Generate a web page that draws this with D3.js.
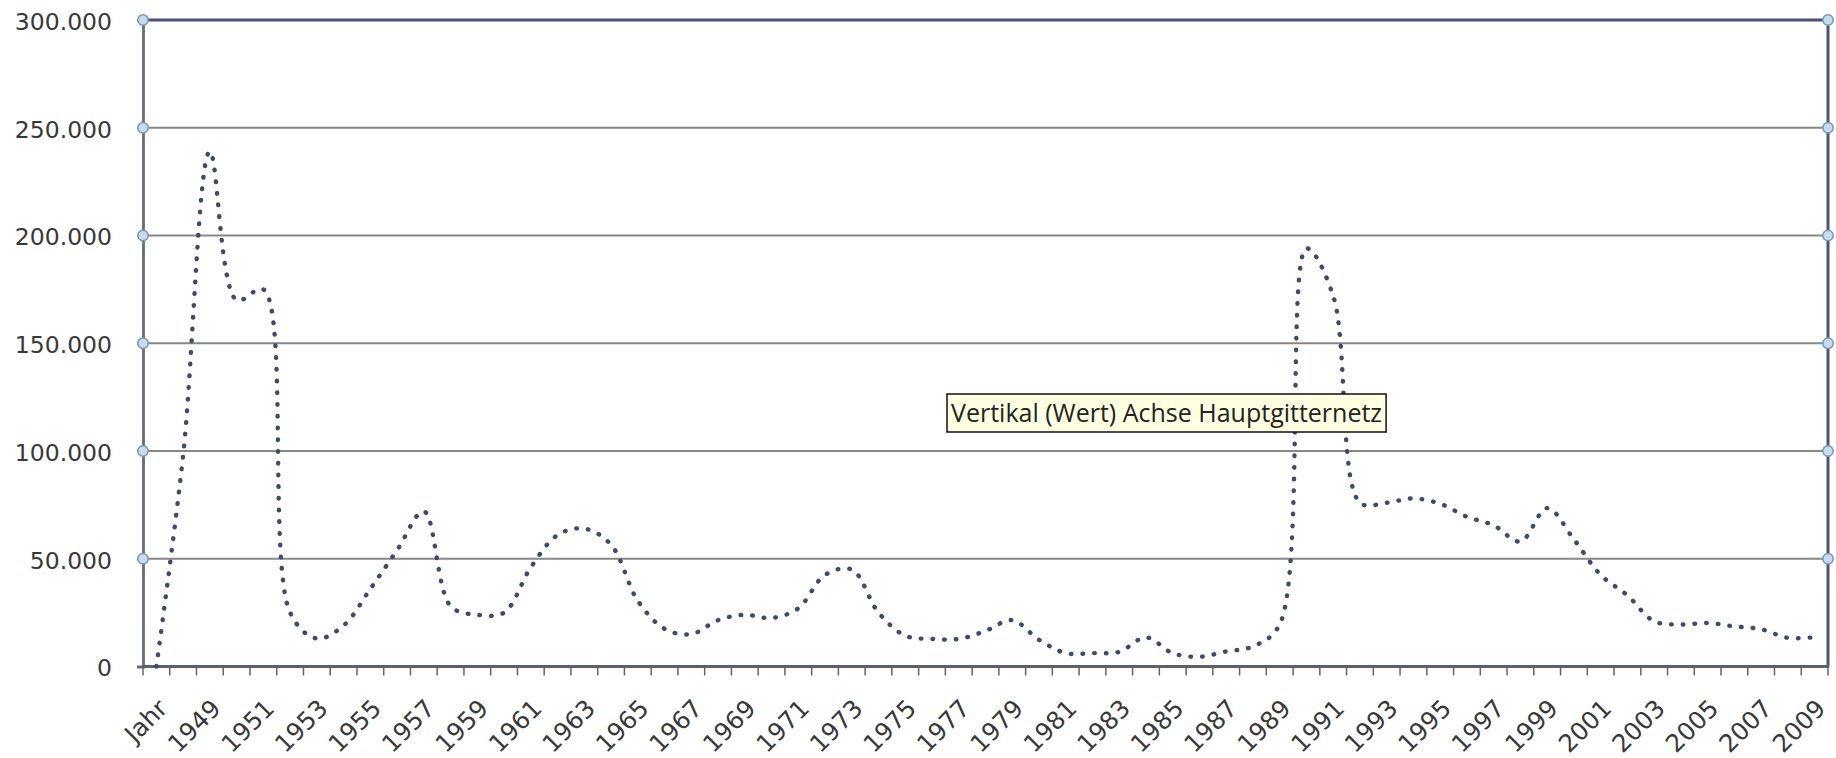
<!DOCTYPE html>
<html>
<head>
<meta charset="utf-8">
<script src="https://cdn.jsdelivr.net/npm/d3@7"></script>
<style>
  body { margin: 0; background: #fff; }
  svg { display: block; }
  .ylab { font-family: "DejaVu Sans", sans-serif; font-size: 23.5px; fill: #383838; }
  .xlab { font-family: "DejaVu Sans", sans-serif; font-size: 24.5px; fill: #383838; }
  .tip { font-family: "Open Sans", sans-serif; font-size: 25px; fill: #222; }
</style>
</head>
<body>
<svg id="chart"></svg>
<script>
var w = 1836;
var h = 758;

// categories as in the sheet (first one is the header cell)
var categories = ["Jahr", "1948", "1949", "1950", "1951", "1952", "1953", "1954", "1955", "1956",
    "1957", "1958", "1959", "1960", "1961", "1962", "1963", "1964", "1965", "1966",
    "1967", "1968", "1969", "1970", "1971", "1972", "1973", "1974", "1975", "1976",
    "1977", "1978", "1979", "1980", "1981", "1982", "1983", "1984", "1985", "1986",
    "1987", "1988", "1989", "1990", "1991", "1992", "1993", "1994", "1995", "1996",
    "1997", "1998", "1999", "2000", "2001", "2002", "2003", "2004", "2005", "2006",
    "2007", "2008", "2009"];
var values = [0, 98000, 239000, 170000, 175000, 25000, 13000, 19000, 36000, 54000,
    72000, 28000, 24000, 25000, 46000, 61000, 64000, 56500, 30500, 17500,
    15000, 21500, 24000, 22500, 27000, 42500, 45000, 25000, 14300, 12800,
    12800, 16500, 21500, 12400, 6200, 6200, 6800, 13500, 6200, 4500,
    7000, 9300, 19500, 194000, 172000, 76000, 76000, 78000, 75500, 69500,
    65500, 58000, 73500, 59000, 42500, 33000, 21000, 19500, 20200, 18600,
    17300, 13300, 13600];
var yTicks = [0, 50000, 100000, 150000, 200000, 250000, 300000];
var tipText = "Vertikal (Wert) Achse Hauptgitternetz";

var pLeft = 143, pRight = 1828, pTop = 20, pBottom = 666.5;

let svg = d3.select("#chart")
    .attr("width", w)
    .attr("height", h);

let de = d3.formatLocale({ decimal: ",", thousands: ".", grouping: [3], currency: ["", " €"] });
let fmt = de.format(",d");

let xScale = d3.scaleBand()
    .domain(categories)
    .range([pLeft, pRight])
    .padding(0);
let yScale = d3.scaleLinear()
    .domain([0, 300000])
    .range([pBottom, pTop]);

//gridlines
svg.append("g")
    .selectAll("line")
    .data(yTicks.filter(d => d > 0 && d < 300000))
    .enter().append("line")
    .attr("x1", pLeft).attr("x2", pRight)
    .attr("y1", d => yScale(d)).attr("y2", d => yScale(d))
    .attr("stroke", "#878787")
    .attr("stroke-width", 1.8);

// border top / right
svg.append("line")
    .attr("x1", pLeft).attr("x2", pRight)
    .attr("y1", yScale(300000)).attr("y2", yScale(300000))
    .attr("stroke", "#44537a").attr("stroke-width", 3.2);
svg.append("line")
    .attr("x1", pRight).attr("x2", pRight)
    .attr("y1", yScale(300000)).attr("y2", pBottom)
    .attr("stroke", "#4a5672").attr("stroke-width", 3);

// y axis
let yAxis = d3.axisLeft(yScale)
    .tickValues(yTicks)
    .tickSize(6)
    .tickPadding(25)
    .tickFormat(fmt);
let gy = svg.append("g")
    .attr("transform", `translate(${pLeft}, 0)`)
    .call(yAxis);
gy.select(".domain").attr("stroke", "#666d74").attr("stroke-width", 2.8);
gy.selectAll(".tick line").attr("stroke", "#666d74").attr("stroke-width", 1.5);
gy.selectAll(".tick text")
    .attr("class", "ylab")
    .attr("dy", "0.4em");
gy.attr("font-family", null).attr("font-size", null);

// x axis: ticks on band borders
let gx = svg.append("g");
gx.selectAll("line.tk")
    .data(categories.concat(["end"]))
    .enter().append("line")
    .attr("class", "tk")
    .attr("x1", (d, i) => i < categories.length ? xScale(d) : pRight)
    .attr("x2", (d, i) => i < categories.length ? xScale(d) : pRight)
    .attr("y1", pBottom).attr("y2", pBottom + 9)
    .attr("stroke", "#5d646b")
    .attr("stroke-width", 1.5);
gx.append("line")
    .attr("x1", pLeft - 1).attr("x2", pRight + 1)
    .attr("y1", pBottom).attr("y2", pBottom)
    .attr("stroke", "#5a6168")
    .attr("stroke-width", 3.2);
gx.selectAll("text")
    .data(categories.filter((d, i) => i % 2 == 0))
    .enter().append("text")
    .attr("class", "xlab")
    .attr("text-anchor", "end")
    .attr("dy", "0.72em")
    .attr("transform", d => `translate(${xScale(d) + xScale.bandwidth() / 2}, ${pBottom + 31}) rotate(-45)`)
    .text(d => d);

// selection handles of the gridlines
let handles = yTicks.filter(d => d > 0);
svg.append("g")
    .selectAll("circle")
    .data(handles.map(d => [pLeft, d]).concat(handles.map(d => [pRight, d])))
    .enter().append("circle")
    .attr("cx", d => d[0])
    .attr("cy", d => yScale(d[1]))
    .attr("r", 5.2)
    .attr("fill", "#c6dbec")
    .attr("stroke", "#7896b3")
    .attr("stroke-width", 1.5);

// the dotted smoothed line
let line = d3.line()
    .x((d, i) => xScale(categories[i]) + xScale.bandwidth() / 2)
    .y(d => yScale(d))
    .curve(d3.curveCatmullRom.alpha(0.5));
svg.append("path")
    .datum(values)
    .attr("d", line)
    .attr("fill", "none")
    .attr("stroke", "#3b4b6c")
    .attr("stroke-width", 4.4)
    .attr("stroke-linecap", "round")
    .attr("stroke-dasharray", "0.6 11.1");

// tooltip
let tip = svg.append("g").attr("transform", "translate(947, 394)");
let tipRect = tip.append("rect")
    .attr("fill", "#ffffe1")
    .attr("stroke", "#111")
    .attr("stroke-width", 1.5);
let t = tip.append("text")
    .attr("class", "tip")
    .attr("x", 4)
    .attr("y", 28)
    .text(tipText);
let tw = t.node().getComputedTextLength();
tipRect.attr("width", tw + 8).attr("height", 38);
</script>
</body>
</html>
